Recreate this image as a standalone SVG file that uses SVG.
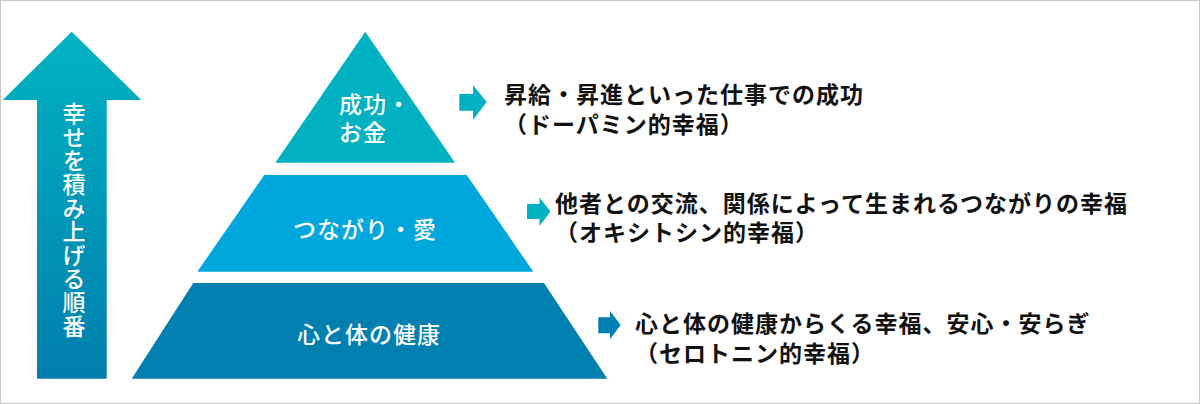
<svg xmlns="http://www.w3.org/2000/svg" width="1200" height="404" viewBox="0 0 1200 404">
  <defs>
    <linearGradient id="upGrad" x1="0" y1="0" x2="0" y2="1">
      <stop offset="0" stop-color="#00B3C2"/>
      <stop offset="1" stop-color="#007EAE"/>
    </linearGradient>
    <style>
      .wt { font-family: "Noto Sans CJK JP", "Noto Sans", sans-serif; fill: #FFFFFF; font-size: 23px; font-weight: 500; letter-spacing: 1px; }
      .vt { writing-mode: vertical-rl; letter-spacing: 0.6px; }
      .bt { font-family: "Noto Sans CJK JP", "Noto Sans", sans-serif; fill: #111111; font-size: 23px; font-weight: bold; letter-spacing: 1px; }
      .teal { fill: #00B1C1; }
      .sky { fill: #00A7DC; }
      .deep { fill: #0080B0; }
    </style>
  </defs>

  <rect x="0.5" y="0.5" width="1199" height="403" fill="#FFFFFF" stroke="#C8C8C8" stroke-width="1"/>

  <g id="order-arrow">
    <polygon points="71.7,31.7 141.3,100 106.7,100 106.7,378.7 37,378.7 37,100 2.7,100" fill="url(#upGrad)"/>
    <text class="wt vt" x="74" y="102">幸せを積み上げる順番</text>
  </g>

  <g id="tier-top">
    <polygon class="teal" points="365.3,31.7 455,162.7 275.3,162.7"/>
    <text class="wt"><tspan x="339" y="112.5">成功・</tspan><tspan x="339" y="141">お金</tspan></text>
  </g>

  <g id="tier-middle">
    <polygon class="sky" points="264.3,175 466.7,175 533.3,271.7 197.3,271.7"/>
    <text class="wt" x="365" y="237.5" text-anchor="middle">つながり・愛</text>
  </g>

  <g id="tier-bottom">
    <polygon class="deep" points="193.3,283 544,283 607.3,378.7 131.7,378.7"/>
    <text class="wt" x="369" y="342.5" text-anchor="middle">心と体の健康</text>
  </g>

  <g id="connectors">
    <polygon class="teal" points="459.3,94 473,94 473,85 486.7,102 473,120 473,110.7 459.3,110.7"/>
    <polygon class="teal" points="527,204 539.5,204 539.5,197.5 550.5,211.5 539.5,226 539.5,219 527,219"/>
    <polygon class="deep" points="598.3,317.3 610,317.3 610,311 620.7,325 610,339.3 610,333.3 598.3,333.3"/>
  </g>

  <g id="desc-top">
    <text class="bt"><tspan x="504" y="102.5">昇給・昇進といった仕事での成功</tspan><tspan x="504" y="133">（ドーパミン的幸福）</tspan></text>
  </g>

  <g id="desc-middle">
    <text class="bt"><tspan x="555" y="212">他者との交流、関係によって生まれるつながりの幸福</tspan><tspan x="555" y="241">（オキシトシン的幸福）</tspan></text>
  </g>

  <g id="desc-bottom">
    <text class="bt"><tspan x="635" y="332">心と体の健康からくる幸福、安心・安らぎ</tspan><tspan x="635" y="362">（セロトニン的幸福）</tspan></text>
  </g>
</svg>
